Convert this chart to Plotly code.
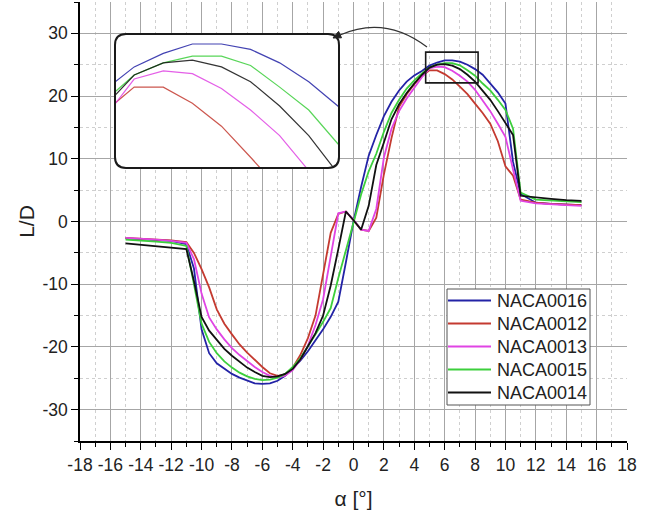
import plotly.graph_objects as go

# Angle of attack (deg)
alpha = [-15, -14, -13, -12, -11, -10.5, -10, -9.5, -9, -8.5, -8, -7.5, -7, -6.5, -6,
         -5.5, -5, -4.5, -4, -3.5, -3, -2.5, -2, -1.5, -1, -0.5, 0, 0.5, 1, 1.5, 2,
         2.5, 3, 3.5, 4, 4.5, 5, 5.5, 6, 6.5, 7, 7.5, 8, 8.5, 9, 9.5, 10, 10.5,
         11, 12, 13, 14, 15]

# Lift-to-drag ratio for each profile
naca0016 = [-2.7, -2.8, -2.9, -3.1, -3.6, -7.5, -17.2, -21.0, -22.6, -23.5, -24.3, -24.9, -25.4, -25.8, -25.9,
            -25.8, -25.4, -24.6, -23.4, -22.2, -20.7, -19.0, -17.2, -15.2, -12.8, -6.5, 0.0, 5.5, 10.5, 13.8, 16.8,
            19.1, 20.9, 22.3, 23.3, 24.0, 24.85, 25.35, 25.7, 25.7, 25.5, 25.0, 24.3, 23.4, 22.0, 20.6, 18.8, 9.5,
            4.4, 3.0, 2.8, 2.7, 2.6]
naca0012 = [-2.6, -2.7, -2.8, -3.0, -3.3, -5.0, -7.6, -10.5, -14.0, -16.3, -18.0, -19.6, -20.9, -22.1, -23.2,
            -24.2, -24.6, -24.4, -23.3, -21.3, -18.6, -15.0, -8.5, -1.8, 1.2, 1.6, 0.2, -1.3, -1.5, 0.6, 7.5,
            13.3, 18.3, 20.3, 21.9, 23.2, 24.1, 24.1, 23.5, 22.65, 21.5, 20.3, 18.8, 17.3, 15.6, 12.8, 8.8, 7.3,
            3.5, 3.0, 2.8, 2.7, 2.6]
naca0013 = [-2.6, -2.7, -2.9, -3.1, -3.4, -6.0, -11.5, -15.3, -17.2, -18.8, -20.2, -21.3, -22.3, -23.2, -24.0,
            -24.6, -24.9, -24.6, -23.7, -22.0, -19.8, -16.5, -12.4, -5.5, 1.3, 1.6, 0.3, -1.3, -1.5, 2.0, 10.2,
            14.8, 17.6, 19.6, 21.4, 23.0, 24.4, 24.7, 24.6, 24.05, 23.25, 22.3, 21.0, 19.3, 17.6, 15.6, 13.5, 8.3,
            3.3, 2.9, 2.7, 2.6, 2.5]
naca0015 = [-2.9, -3.0, -3.2, -3.4, -3.9, -10.0, -16.3, -19.2, -21.0, -22.3, -23.3, -24.1, -24.7, -25.1, -25.3,
            -25.2, -24.9, -24.3, -23.2, -21.8, -20.0, -18.0, -16.0, -13.8, -9.0, -4.4, -0.2, 4.3, 8.0, 10.8, 14.3,
            17.3, 19.4, 21.2, 22.5, 23.6, 24.55, 25.0, 25.25, 25.25, 24.9, 24.1, 23.25, 22.0, 20.9, 19.4, 17.8, 14.8,
            4.6, 3.5, 3.3, 3.2, 3.1]
naca0014 = [-3.5, -3.7, -3.9, -4.1, -4.4, -9.5, -15.2, -17.4, -18.9, -20.3, -21.4, -22.4, -23.3, -24.0, -24.6,
            -24.8, -24.7, -24.3, -23.5, -22.0, -20.0, -17.8, -15.0, -10.2, -4.4, 1.6, 0.2, -1.3, 2.5, 9.0, 12.6,
            16.3, 18.7, 20.5, 22.0, 23.4, 24.55, 25.0, 25.1, 24.85, 24.3, 23.4, 22.3, 20.9, 19.4, 17.6, 15.7, 13.8,
            4.1, 3.8, 3.6, 3.4, 3.3]

series_names = ["NACA0016", "NACA0012", "NACA0013", "NACA0015", "NACA0014"]
series_values = [naca0016, naca0012, naca0013, naca0015, naca0014]
series_colors = ["#2323a6", "#c43a30", "#e044e4", "#3ccf3c", "#111111"]

x_tickvals = [-18, -16, -14, -12, -10, -8, -6, -4, -2, 0, 2, 4, 6, 8, 10, 12, 14, 16, 18]
x_ticktext = ["-18", "-16", "-14", "-12", "-10", "-8", "-6", "-4", "-2", "0",
              "2", "4", "6", "8", "10", "12", "14", "16", "18"]
y_tickvals = [-30, -20, -10, 0, 10, 20, 30]
y_ticktext = ["-30", "-20", "-10", "0", "10", "20", "30"]

# Zoomed window around the maximum
zoom_box_x = [4.75, 8.2]
zoom_box_y = [22.1, 27.0]
inset_x_range = [4.67, 8.52]
inset_y_range = [21.1, 26.07]

# Figure geometry
W, H = 652, 516
M_L, M_R, M_T, M_B = 80, 25, 2, 75
PW, PH = W - M_L - M_R, H - M_T - M_B


def paper_x(px):
    return (px - M_L) / PW


def paper_y(py):
    return 1 - (py - M_T) / PH


def rounded_rect_path(x0, y0, x1, y1, r):
    pts = [
        ("M", [(x0 + r, y0)]), ("L", [(x1 - r, y0)]), ("Q", [(x1, y0), (x1, y0 + r)]),
        ("L", [(x1, y1 - r)]), ("Q", [(x1, y1), (x1 - r, y1)]),
        ("L", [(x0 + r, y1)]), ("Q", [(x0, y1), (x0, y1 - r)]),
        ("L", [(x0, y0 + r)]), ("Q", [(x0, y0), (x0 + r, y0)]),
    ]
    parts = []
    for cmd, coords in pts:
        parts.append(cmd + " " + " ".join(f"{paper_x(a):.5f},{paper_y(b):.5f}" for a, b in coords))
    return " ".join(parts) + " Z"


FONT = "Liberation Sans, Arial, sans-serif"
TEXT = "#222"

fig = go.Figure()

for name, vals, col in zip(series_names, series_values, series_colors):
    fig.add_trace(go.Scatter(x=alpha, y=vals, mode="lines", name=name, showlegend=False,
                             line=dict(color=col, width=1.8)))

for name, vals, col in zip(series_names, series_values, series_colors):
    fig.add_trace(go.Scatter(x=alpha, y=vals, mode="lines", name=name, showlegend=False,
                             xaxis="x2", yaxis="y2", opacity=0.85,
                             line=dict(color=col, width=1.2)))

axis_common = dict(
    showline=True, linecolor="black", linewidth=1.6,
    ticks="outside", ticklen=7, tickwidth=1.4, tickcolor="black",
    showgrid=True, gridcolor="#a6a6a6", gridwidth=1,
    zeroline=False,
    tickfont=dict(family=FONT, size=17.5, color=TEXT),
)

fig.update_layout(
    width=W, height=H,
    margin=dict(l=M_L, r=M_R, t=M_T, b=M_B, pad=0),
    template="none",
    plot_bgcolor="white", paper_bgcolor="white",
    font=dict(family=FONT, color=TEXT),
    xaxis=dict(range=[-18, 18], tickmode="array", tickvals=x_tickvals, ticktext=x_ticktext,
               minor=dict(tickmode="linear", tick0=0, dtick=1, ticks="outside", ticklen=4,
                          tickwidth=1.2, tickcolor="black", showgrid=True,
                          gridcolor="#cfcfcf", griddash="dot", gridwidth=1),
               title=dict(text="α [°]", font=dict(family=FONT, size=21, color=TEXT), standoff=18),
               **axis_common),
    yaxis=dict(range=[-35, 35], tickmode="array", tickvals=y_tickvals, ticktext=y_ticktext,
               minor=dict(tickmode="linear", tick0=0, dtick=5, ticks="outside", ticklen=4,
                          tickwidth=1.2, tickcolor="black", showgrid=True,
                          gridcolor="#cfcfcf", griddash="dot", gridwidth=1),
               title=dict(text="L/D", font=dict(family=FONT, size=21, color=TEXT), standoff=2),
               **axis_common),
    xaxis2=dict(domain=[paper_x(115), paper_x(339)], range=inset_x_range, anchor="y2",
                showgrid=False, zeroline=False, showline=False, showticklabels=False, ticks=""),
    yaxis2=dict(domain=[paper_y(168), paper_y(34)], range=inset_y_range, anchor="x2",
                showgrid=False, zeroline=False, showline=False, showticklabels=False, ticks=""),
    showlegend=False,
)

shapes = []
annotations = []

# Frame of the magnified view
shapes.append(dict(type="path", xref="paper", yref="paper",
                   path=rounded_rect_path(115, 34, 339, 168, 11),
                   line=dict(color="#1a1a1a", width=2)))
# Window around the peak on the main axes
shapes.append(dict(type="rect", xref="x", yref="y",
                   x0=zoom_box_x[0], x1=zoom_box_x[1], y0=zoom_box_y[0], y1=zoom_box_y[1],
                   line=dict(color="#1a1a1a", width=1.6)))
# Curved pointer from the window to the magnified view
sx, sy = 427, 47
cx, cy = 385, 15
ex, ey = 340, 35
shapes.append(dict(type="path", xref="paper", yref="paper",
                   path=f"M {paper_x(sx):.5f},{paper_y(sy):.5f} Q {paper_x(cx):.5f},{paper_y(cy):.5f} "
                        f"{paper_x(ex):.5f},{paper_y(ey):.5f}",
                   line=dict(color="#333", width=1.2)))
tip = (333, 38)
b1 = (341.5, 37.8)
b2 = (338.6, 31.4)
shapes.append(dict(type="path", xref="paper", yref="paper",
                   path=f"M {paper_x(tip[0]):.5f},{paper_y(tip[1]):.5f} "
                        f"L {paper_x(b1[0]):.5f},{paper_y(b1[1]):.5f} "
                        f"L {paper_x(b2[0]):.5f},{paper_y(b2[1]):.5f} Z",
                   fillcolor="#222", line=dict(color="#222", width=1)))

# Legend box with line samples and labels
LEG_L, LEG_R, LEG_T, LEG_B = 447, 590, 289, 405
ROW0, ROW_STEP = 300.5, 23.0
shapes.append(dict(type="rect", xref="paper", yref="paper",
                   x0=paper_x(LEG_L), x1=paper_x(LEG_R), y0=paper_y(LEG_B), y1=paper_y(LEG_T),
                   fillcolor="white", line=dict(color="#555", width=1), layer="above"))
for i, (name, col) in enumerate(zip(series_names, series_colors)):
    ry = ROW0 + i * ROW_STEP
    shapes.append(dict(type="line", xref="paper", yref="paper",
                       x0=paper_x(LEG_L + 1), x1=paper_x(LEG_L + 44), y0=paper_y(ry), y1=paper_y(ry),
                       line=dict(color=col, width=2), layer="above"))
    annotations.append(dict(xref="paper", yref="paper", x=paper_x(LEG_L + 48), y=paper_y(ry),
                            xanchor="left", yanchor="middle", showarrow=False, text=name,
                            font=dict(family=FONT, size=18, color=TEXT)))

fig.update_layout(shapes=shapes, annotations=annotations)

fig.write_html("out.html")
